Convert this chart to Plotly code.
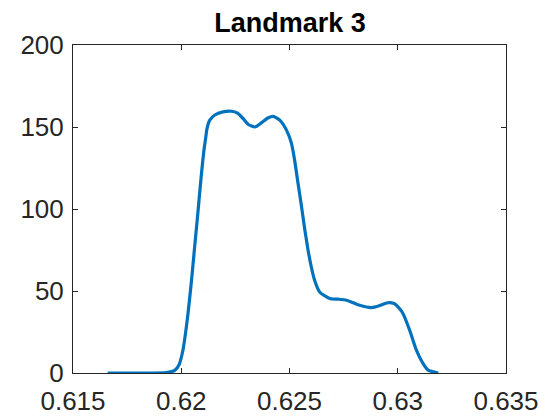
import plotly.graph_objects as go

x_vals = [0.6166, 0.6185, 0.6193, 0.6197, 0.6199, 0.62008, 0.6202, 0.62031, 0.62047,
          0.62062, 0.62077, 0.62088, 0.62096, 0.62105, 0.62112, 0.62119, 0.62131, 0.62155,
          0.62193, 0.62232, 0.6226, 0.6229, 0.6231, 0.6234, 0.6237, 0.624, 0.62424,
          0.62455, 0.62486, 0.62509, 0.62524, 0.62539, 0.62555, 0.6257, 0.62585, 0.62601,
          0.62616, 0.62639, 0.62686, 0.62725, 0.62763, 0.62795, 0.62824, 0.62878, 0.62915,
          0.62948, 0.62972, 0.62986, 0.63005, 0.63024, 0.63055, 0.63086, 0.63117, 0.6314,
          0.63187]
density = [0.0, 0.0, 0.2, 1.6, 5.0, 14.0, 24.5, 36.0, 56.0,
           77.0, 98.0, 114.0, 125.0, 136.0, 142.5, 149.0, 154.0, 157.3,
           159.2, 159.6, 158.5, 154.5, 151.5, 150.0, 152.5, 155.5, 156.5,
           154.2, 148.1, 140.0, 129.5, 116.0, 102.0, 88.0, 75.5, 64.5,
           56.5, 49.4, 45.4, 45.0, 44.4, 42.8, 41.3, 39.9, 41.0,
           42.7, 42.8, 42.2, 39.8, 36.3, 26.1, 13.9, 5.7, 1.8,
           0.0]

x_ticks = [0.615, 0.62, 0.625, 0.63, 0.635]
x_tick_text = ["0.615", "0.62", "0.625", "0.63", "0.635"]
y_ticks = [0, 50, 100, 150, 200]

axis_color = "#262626"
fig = go.Figure()
fig.add_trace(go.Scatter(x=x_vals, y=density, mode="lines",
                         line=dict(color="#0072BD", width=3.2, shape="spline", smoothing=0.6),
                         showlegend=False, hoverinfo="skip"))

fig.update_layout(
    width=560, height=420,
    margin=dict(l=73, r=54, t=45, b=47),
    paper_bgcolor="white", plot_bgcolor="white",
    font=dict(family="Liberation Sans, Arial, sans-serif", color=axis_color, size=26),
    title=dict(text="<b>Landmark 3</b>", x=0.518, xanchor="center", y=0.97, yanchor="top",
               font=dict(size=27, color="black")),
)
fig.update_xaxes(range=[0.615, 0.635], tickvals=x_ticks, ticktext=x_tick_text,
                 showline=True, mirror="ticks", linecolor=axis_color, linewidth=1,
                 ticks="inside", ticklen=5, tickcolor=axis_color, showgrid=False,
                 zeroline=False, ticklabelstandoff=5, automargin=False)
fig.update_yaxes(range=[0, 200], tickvals=y_ticks,
                 showline=True, mirror="ticks", linecolor=axis_color, linewidth=1,
                 ticks="inside", ticklen=5, tickcolor=axis_color, showgrid=False,
                 zeroline=False, ticklabelstandoff=3, automargin=False)

fig.write_html("out.html", config={"displayModeBar": False},
               post_script="document.body.style.margin='0';document.body.style.padding='0';document.body.style.overflow='hidden';")
